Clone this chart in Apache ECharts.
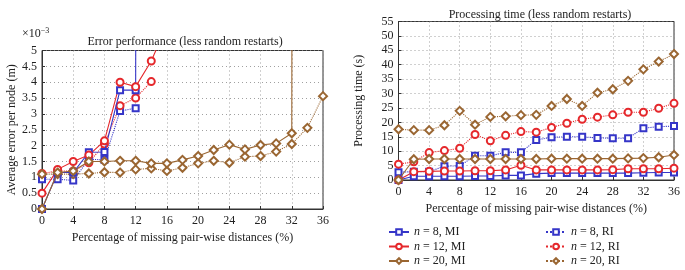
<!DOCTYPE html>
<html><head><meta charset="utf-8">
<script src="https://cdn.jsdelivr.net/npm/echarts@6/dist/echarts.min.js"></script>
<style>html,body{margin:0;padding:0;background:#fff}#c{width:685px;height:270px}</style>
</head><body><div id="c"></div>
<script>
// x values (% of missing pair-wise distances)
const xVals = [0, 2, 4, 6, 8, 10, 12, 14, 16, 18, 20, 22, 24, 26, 28, 30, 32, 34, 36];
const xTicks = [0, 4, 8, 12, 16, 20, 24, 28, 32, 36];
const errTicks = ['0', '0.5', '1', '1.5', '2', '2.5', '3', '3.5', '4', '4.5', '5'];
const timeTicks = ['0', '5', '10', '15', '20', '25', '30', '35', '40', '45', '50', '55'];

const seriesNames = ['n = 8, MI', 'n = 12, MI', 'n = 20, MI', 'n = 8, RI', 'n = 12, RI', 'n = 20, RI'];

// Error performance (x10^-3 m); values above the axis top leave the plot
const errBlueMI  = [0, 1.15, 1.15, 1.79, 1.8, 3.75, 3.75, 400, null, null, null, null, null, null, null, null, null, null, null];
const errRedMI   = [0.5, 1.25, 1.5, 1.7, 2.15, 4.0, 3.86, 4.67, 5.8, null, null, null, null, null, null, null, null, null, null];
const errBrownMI = [0, 1.15, 1.2, 1.5, 1.5, 1.52, 1.52, 1.44, 1.44, 1.55, 1.67, 1.86, 2.03, 1.88, 2.02, 2.07, 2.39, 400, null];
const errBlueRI  = [0.94, 0.94, 0.9, 1.57, 1.55, 3.09, 3.18, null, null, null, null, null, null, null, null, null, null, null, null];
const errRedRI   = [1.12, 1.2, 1.2, 1.46, 2.05, 3.26, 3.5, 4.02, null, null, null, null, null, null, null, null, null, null, null];
const errBrownRI = [1.1, 1.1, 1.1, 1.12, 1.16, 1.15, 1.25, 1.28, 1.2, 1.3, 1.44, 1.52, 1.46, 1.65, 1.67, 1.81, 2.05, 2.56, 3.56];

// Processing time (s)
const timeBlueMI  = [0, 1.3, 1.3, 1.3, 1.3, 1.4, 1.4, 1.6, 1.6, 2.2, 2.4, 2.4, 2.4, 2.4, 2.4, 2.4, 2.5, 2.6, 2.6];
const timeRedMI   = [0, 2.9, 3.0, 3.1, 3.1, 3.2, 3.2, 3.5, 5.1, 3.5, 3.5, 3.5, 3.5, 3.5, 3.6, 3.9, 3.9, 3.9, 4.1];
const timeBrownMI = [0, 7.2, 7.3, 7.3, 7.3, 7.3, 7.3, 7.3, 7.3, 7.3, 7.4, 7.4, 7.4, 7.4, 7.4, 7.5, 7.6, 7.9, 8.7];
const timeBlueRI  = [2.7, 2.9, 2.9, 4.8, 4.9, 8.4, 8.4, 9.6, 9.6, 13.9, 14.8, 15.0, 15.0, 14.6, 14.5, 14.5, 18.0, 18.5, 18.7];
const timeRedRI   = [5.5, 6.3, 9.5, 10.2, 11.0, 15.8, 13.6, 15.5, 16.8, 16.6, 18.2, 19.7, 21.1, 21.8, 22.6, 23.5, 23.5, 24.9, 26.6];
const timeBrownRI = [17.6, 17.3, 17.3, 19.0, 24.0, 19.2, 21.9, 22.1, 22.5, 22.6, 25.7, 28.1, 25.7, 30.3, 31.5, 34.4, 38.4, 41.1, 43.7];

const BLUE = '#3535c8', RED = '#e5282c', BROWN = '#9a6632';
const FONT = 'Liberation Serif';
const colors = [BLUE, RED, BROWN, BLUE, RED, BROWN];
const symbols = ['emptyRect', 'emptyCircle', 'emptyDiamond', 'emptyRect', 'emptyCircle', 'emptyDiamond'];
const symSizes = [6, 7, 8, 6, 7, 8];

function pairs(arr) { return xVals.map((x, i) => [x, arr[i]]); }

function mkSeries(arrs, axisIdx) {
  return arrs.map((a, k) => ({
    name: seriesNames[k],
    type: 'line',
    xAxisIndex: axisIdx, yAxisIndex: axisIdx,
    data: pairs(a),
    symbol: symbols[k], symbolSize: symSizes[k],
    showAllSymbol: true,
    clip: true,
    connectNulls: false,
    itemStyle: { color: colors[k], borderWidth: 1.1 },
    lineStyle: { color: colors[k], width: 1.1, type: k < 3 ? 'solid' : 'dotted' },
    emphasis: { disabled: true },
    animation: false,
    z: k < 3 ? 3 : 2
  }));
}

function xAx(gi, nameGap) {
  return {
    type: 'value', gridIndex: gi, min: 0, max: 36, interval: 4,
    name: 'Percentage of missing pair-wise distances (%)', nameLocation: 'middle', nameGap: nameGap,
    nameTextStyle: { fontFamily: FONT, fontSize: 12, color: '#222' },
    axisLine: { show: true, lineStyle: { color: '#333' } },
    axisTick: { show: true, inside: true, length: 3, lineStyle: { color: '#333' } },
    axisLabel: { fontFamily: FONT, fontSize: 12, color: '#222', margin: 6,
      formatter: v => String(xTicks[xTicks.indexOf(v)]) },
    splitLine: { show: true, lineStyle: { type: [1, 3], color: '#888', width: 0.8 } }
  };
}

function yAx(gi, max, interval, ticks, name, nameGap) {
  return {
    type: 'value', gridIndex: gi, min: 0, max: max, interval: interval,
    name: name, nameLocation: 'middle', nameGap: nameGap,
    nameTextStyle: { fontFamily: FONT, fontSize: 12, color: '#222' },
    axisLine: { show: true, lineStyle: { color: '#333' } },
    axisTick: { show: true, inside: true, length: 3, lineStyle: { color: '#333' } },
    axisLabel: { fontFamily: FONT, fontSize: 12, color: '#222', margin: 5,
      formatter: v => ticks[Math.round(v / interval)] },
    splitLine: { show: true, lineStyle: { type: [1, 3], color: '#888', width: 0.8 } }
  };
}

const legendCommon = {
  orient: 'vertical', itemWidth: 20, itemHeight: 7, itemGap: 2.5, height: 60, padding: 0,
  textStyle: { fontFamily: FONT, fontSize: 12, color: '#222', lineHeight: 12,
    rich: { i: { fontFamily: FONT, fontSize: 12, fontStyle: 'italic', color: '#222', lineHeight: 12 } } },
  formatter: n => '{i|n}' + n.slice(1),
  selectedMode: false
};

const chart = echarts.init(document.getElementById('c'), null, { renderer: 'canvas' });
chart.setOption({
  animation: false,
  backgroundColor: '#fff',
  title: [
    { text: 'Error performance (less random restarts)', left: 180, top: 31, textAlign: 'center',
      textStyle: { fontFamily: FONT, fontSize: 12, fontWeight: 'normal', color: '#222' } },
    { text: 'Processing time (less random restarts)', left: 535, top: 4, textAlign: 'center',
      textStyle: { fontFamily: FONT, fontSize: 12, fontWeight: 'normal', color: '#222' } }
  ],
  graphic: [{
    type: 'text', left: 22, top: 27,
    style: { text: '×10{s|−3}', fontFamily: FONT, fontSize: 12, fill: '#222',
      rich: { s: { fontFamily: FONT, fontSize: 8, verticalAlign: 'top', padding: [0, 0, 6, 0], fill: '#222' } } }
  }],
  grid: [
    { left: 42, right: 362, top: 50.5, bottom: 61, show: true, borderColor: '#333', borderWidth: 1 },
    { left: 398.5, right: 11, top: 21.5, bottom: 90, show: true, borderColor: '#333', borderWidth: 1 }
  ],
  xAxis: [xAx(0, 20), xAx(1, 20)],
  yAxis: [
    yAx(0, 5, 0.5, errTicks, 'Average error per node (m)', 21),
    yAx(1, 55, 5, timeTicks, 'Processing time (s)', 34)
  ],
  legend: [
    Object.assign({}, legendCommon, { data: seriesNames.slice(0, 3), left: 388, top: 226 }),
    Object.assign({}, legendCommon, { data: seriesNames.slice(3), left: 545, top: 226 })
  ],
  series: mkSeries([errBlueMI, errRedMI, errBrownMI, errBlueRI, errRedRI, errBrownRI], 0)
    .concat(mkSeries([timeBlueMI, timeRedMI, timeBrownMI, timeBlueRI, timeRedRI, timeBrownRI], 1))
});
</script></body></html>
